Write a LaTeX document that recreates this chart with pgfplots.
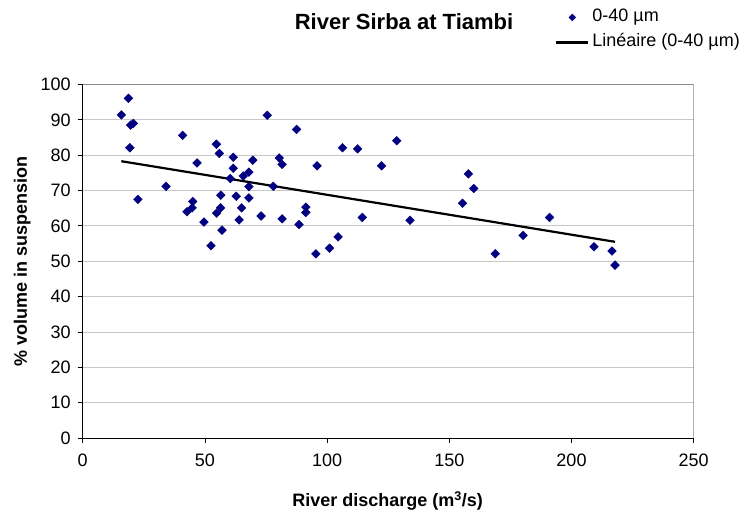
\documentclass[border=0pt]{standalone}
\usepackage{fontspec}
\setmainfont{Liberation Sans}
\usepackage{pgfplots}
\pgfplotsset{compat=1.18}
\definecolor{navydot}{RGB}{0,0,128}
\definecolor{gridgray}{RGB}{200,200,200}
\definecolor{framegray}{RGB}{140,140,140}

\pgfplotsset{
  diamondlegend/.style={legend image code/.code={\draw[##1, mark size=2.4bp] plot coordinates {(16bp,0bp)};}},
  linelegend/.style={legend image code/.code={\draw[##1] (0bp,0bp) -- (32bp,0bp);}},
}

\pgfplotstableread{
q v
15.8 91.4
18.7 96.1
19.6 88.5
20.7 89.0
19.3 82.1
22.6 67.5
34.1 71.2
40.9 85.6
46.8 77.8
45.0 66.9
44.8 65.1
42.7 64.0
49.6 61.1
52.5 54.4
54.7 83.1
55.9 80.5
56.5 68.7
56.4 65.1
54.8 63.6
57.0 58.8
61.6 79.4
61.6 76.3
60.4 73.4
62.8 68.4
65.0 65.1
64.0 61.7
65.7 74.1
68.0 75.2
69.6 78.6
68.0 71.1
68.0 67.9
73.0 62.8
75.5 91.3
78.0 71.2
80.4 79.2
81.6 77.4
81.6 62.0
87.5 87.3
88.5 60.4
91.3 65.3
91.3 63.8
95.9 77.0
95.4 52.1
101.0 53.7
104.5 56.9
106.3 82.1
112.5 81.8
114.4 62.4
122.3 77.0
128.5 84.1
133.9 61.6
155.4 66.4
157.8 74.7
160.0 70.6
168.8 52.1
180.2 57.3
191.0 62.4
209.2 54.1
216.6 52.9
217.8 48.9
}\sirba

\begin{document}
\begin{tikzpicture}
\path[use as bounding box] (0,0) rectangle (742bp,515bp);
\begin{axis}[
  at={(82.7bp,77bp)}, anchor=south west,
  width=611bp, height=353.5bp, scale only axis,
  xmin=0, xmax=250, ymin=0, ymax=100,
  xtick={0,50,...,250}, ytick={0,10,...,100},
  axis x line*=bottom, axis y line*=left,
  axis line style={-, black, line width=0.8bp},
  tick align=outside, major tick length=5bp,
  tick style={black, line width=0.8bp},
  ymajorgrids, grid style={gridgray, line width=0.8bp},
  font=\fontsize{18bp}{21bp}\selectfont,
  /pgf/number format/assume math mode=true,
  yticklabel style={xshift=-3.5bp},
  xticklabel style={yshift=-7bp},
  title={\bfseries\fontsize{22bp}{26bp}\selectfont River Sirba at Tiambi},
  title style={at={(axis description cs:0.5259,1.14)}, anchor=base},
  xlabel={\bfseries River discharge (m\textsuperscript{3}/s)},
  xlabel style={at={(axis description cs:0.499,-0.1943)}, anchor=base},
  ylabel={\bfseries \% volume in suspension},
  ylabel style={at={(axis description cs:-0.0912,0.5)}, anchor=base},
  legend style={at={(axis description cs:0.773,1.2144)}, anchor=north west,
    draw=none, fill=none, inner sep=0pt, row sep=8bp, column sep=3bp,
    nodes={inner sep=0pt, text height=13bp, text depth=4bp},
    font=\fontsize{18bp}{21bp}\selectfont},
  legend cell align=left,
]
\addplot[only marks, mark=square*, mark size=3.1bp, color=navydot,
  mark options={rotate=45}, diamondlegend]
  table[x=q, y=v] {\sirba};
\addlegendentry{0-40 µm}
\addplot[black, line width=2.2bp, no marks, linelegend] coordinates {(15.8,78.3) (217.8,55.5)};
\addlegendentry{Linéaire (0-40 µm)}
\draw[framegray, line width=0.8bp] (rel axis cs:0,1) -- (rel axis cs:1,1) -- (rel axis cs:1,0);
\end{axis}
\end{tikzpicture}
\end{document}
